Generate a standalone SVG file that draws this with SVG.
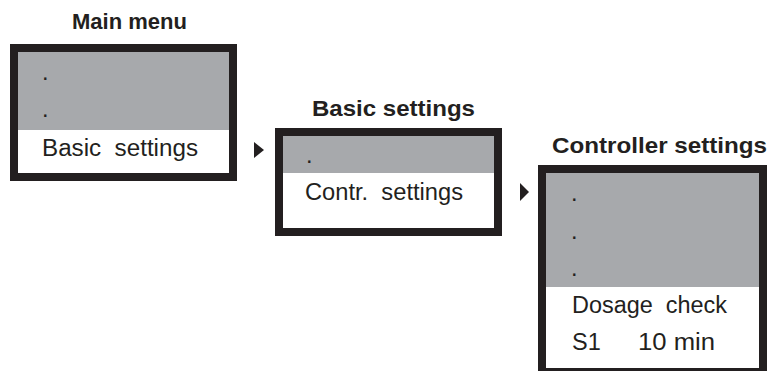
<svg xmlns="http://www.w3.org/2000/svg" width="768" height="371" viewBox="0 0 768 371">
<style>
.frame{fill:#231f20}
.gray{fill:#a7a9ac}
.white{fill:#ffffff}
.title{font-family:"Liberation Sans",Arial,sans-serif;font-weight:bold;font-size:22px;fill:#231f20}
.txt{font-family:"Liberation Sans",Arial,sans-serif;font-size:23.5px;fill:#231f20}
.arrow{fill:#231f20}
</style>
<rect width="768" height="371" fill="#ffffff"/>
<g id="main-menu">
<text class="title" x="72" y="29" textLength="115" lengthAdjust="spacingAndGlyphs">Main menu</text>
<rect class="frame" x="10" y="44" width="227" height="137"/>
<rect class="white" x="18" y="52" width="211" height="121"/>
<rect class="gray" x="18" y="52" width="211" height="78"/>
<text class="txt" x="42" y="80">.</text>
<text class="txt" x="42" y="117">.</text>
<text class="txt" x="42" y="156" xml:space="preserve" textLength="156" lengthAdjust="spacingAndGlyphs">Basic  settings</text>
</g>
<g id="basic-settings">
<text class="title" x="312" y="116" textLength="163" lengthAdjust="spacingAndGlyphs">Basic settings</text>
<rect class="frame" x="275" y="128" width="227" height="108"/>
<rect class="white" x="283" y="136" width="211" height="92"/>
<rect class="gray" x="283" y="136" width="211" height="37"/>
<text class="txt" x="306" y="163">.</text>
<text class="txt" x="305" y="200" xml:space="preserve" textLength="158" lengthAdjust="spacingAndGlyphs">Contr.  settings</text>
</g>
<g id="controller-settings">
<text class="title" x="552" y="153" textLength="215" lengthAdjust="spacingAndGlyphs">Controller settings</text>
<rect class="frame" x="538" y="165" width="229" height="215"/>
<rect class="white" x="546" y="173" width="213" height="195"/>
<rect class="gray" x="546" y="173" width="213" height="114"/>
<text class="txt" x="571" y="201">.</text>
<text class="txt" x="571" y="239">.</text>
<text class="txt" x="571" y="276">.</text>
<text class="txt" x="572" y="313" xml:space="preserve" textLength="155" lengthAdjust="spacingAndGlyphs">Dosage  check</text>
<text class="txt" x="572" y="350">S1</text>
<text class="txt" x="638" y="350" textLength="77" lengthAdjust="spacingAndGlyphs">10 min</text>
</g>
<g id="connectors">
<polygon class="arrow" points="254,142 264,150 254,158"/>
<polygon class="arrow" points="520,183 529,192 520,201"/>
</g>
</svg>
